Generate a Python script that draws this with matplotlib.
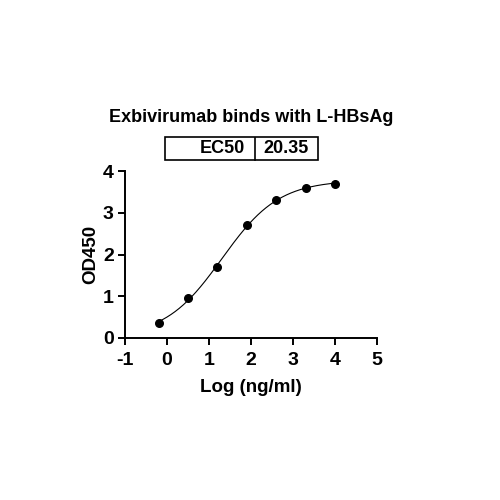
import numpy as np
import matplotlib
matplotlib.use("Agg")
import matplotlib.pyplot as plt
from matplotlib.patches import Rectangle

plt.rcParams['font.family'] = ['Liberation Sans', 'DejaVu Sans']
plt.rcParams['font.weight'] = 'bold'
plt.rcParams['axes.unicode_minus'] = False

# data
log_conc = [-0.2, 0.5, 1.2, 1.9, 2.6, 3.3, 4.0]
od450 = [0.35, 0.95, 1.70, 2.70, 3.30, 3.60, 3.70]
ec50 = 20.35
title = "Exbivirumab binds with L-HBsAg"

x = np.array(log_conc)
y = np.array(od450)
log_ec50 = np.log10(ec50)


def four_pl(xx, bottom, top, hill):
    return bottom + (top - bottom) / (1 + 10 ** ((log_ec50 - xx) * hill))


# crude grid fit of the 4PL curve with EC50 fixed
best = None
for b in np.linspace(-0.5, 0.5, 41):
    for t in np.linspace(3.4, 4.2, 41):
        for h in np.linspace(0.4, 1.4, 51):
            err = np.sum((four_pl(x, b, t, h) - y) ** 2)
            if best is None or err < best[0]:
                best = (err, b, t, h)
_, bottom, top, hill = best

fig = plt.figure(figsize=(5, 5), dpi=100)
ax = fig.add_axes([0.25, 0.324, 0.504, 0.334])

xs = np.linspace(x.min(), x.max(), 300)
ax.plot(xs, four_pl(xs, bottom, top, hill), color='black', lw=0.8)
ax.scatter(x, y, s=30, color='black', zorder=3)

ax.set_xlim(-1, 5)
ax.set_ylim(0, 4)
ax.set_xticks(range(-1, 6))
ax.set_yticks(range(0, 5))
ax.spines['top'].set_visible(False)
ax.spines['right'].set_visible(False)
for s in ['left', 'bottom']:
    ax.spines[s].set_linewidth(1.4)
ax.tick_params(axis='both', direction='out', length=5, width=1.4, labelsize=14)
ax.tick_params(axis='x', pad=5)
ax.tick_params(axis='y', pad=3)
for lab in ax.get_xticklabels() + ax.get_yticklabels():
    lab.set_fontweight('bold')
ax.set_xlabel("Log (ng/ml)", fontsize=13.5, fontweight='bold', labelpad=7)
ax.set_ylabel("OD450", fontsize=13.5, fontweight='bold', labelpad=3)

fig.text(0.502, 0.766, title, ha='center', va='center', fontsize=13, fontweight='bold')

# EC50 box
fig.add_artist(Rectangle((0.33, 0.68), 0.306, 0.045, transform=fig.transFigure,
                         fill=False, lw=1.2, edgecolor='black'))
fig.add_artist(plt.Line2D([0.51, 0.51], [0.68, 0.725], transform=fig.transFigure,
                          color='black', lw=1.2))
fig.text(0.49, 0.7025, "EC50", ha='right', va='center', fontsize=13, fontweight='bold')
fig.text(0.573, 0.7025, f"{ec50:.2f}", ha='center', va='center', fontsize=13, fontweight='bold')

fig.savefig("out.png", dpi=100)
